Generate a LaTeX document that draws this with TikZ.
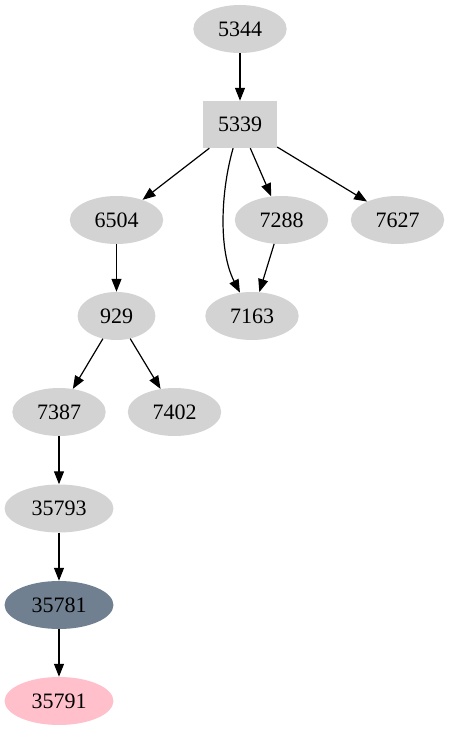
\documentclass[tikz,border=0pt]{standalone}
\usepackage{fontspec}
\setmainfont{Liberation Serif}
\usetikzlibrary{arrows.meta, shapes.geometric}

\definecolor{gvgrey}{HTML}{D3D3D3}
\definecolor{gvslate}{HTML}{708090}
\definecolor{gvpink}{HTML}{FFC0CB}

\begin{document}
\begin{tikzpicture}[x=1pt, y=1pt,
        every node/.style={font=\fontsize{22}{24}\selectfont},
        gnode/.style={ellipse, fill=gvgrey, inner xsep=11pt, inner ysep=2pt, minimum height=48pt},
        gbox/.style={rectangle, fill=gvgrey, minimum width=74pt, minimum height=47pt},
        edge/.style={-{Triangle[length=13pt, width=10pt]}, line width=1.2pt}]

        \useasboundingbox (0,0) rectangle (449,731);

        % Rank heights
        \def\rA{702}
        \def\rB{606.5}
        \def\rC{511}
        \def\rD{415}
        \def\rE{319}
        \def\rF{222.5}
        \def\rG{126}
        \def\rH{30}

        % Nodes
        \node[gnode] (n5344) at (240, \rA) {5344};
        \node[gbox]  (n5339) at (240, \rB) {5339};

        \node[gnode] (n6504) at (116.5, \rC) {6504};
        \node[gnode] (n7288) at (281.5, \rC) {7288};
        \node[gnode] (n7627) at (397.5, \rC) {7627};

        \node[gnode] (n929)  at (116.5, \rD) {929};
        \node[gnode] (n7163) at (252, \rD) {7163};

        \node[gnode] (n7387) at (59, \rE) {7387};
        \node[gnode] (n7402) at (174.5, \rE) {7402};

        \node[gnode] (n35793) at (59, \rF) {35793};
        \node[gnode, fill=gvslate] (n35781) at (59, \rG) {35781};
        \node[gnode, fill=gvpink]  (n35791) at (59, \rH) {35791};

        % Edges
        \draw[edge] (n5344) -- (n5339);
        \draw[edge] (n5339) -- (n6504);
        \draw[edge] (n5339) .. controls (221, 541) and (218, 481) .. (n7163);
        \draw[edge] (n5339) -- (n7288);
        \draw[edge] (n5339) -- (n7627);
        \draw[edge] (n7288) -- (n7163);
        \draw[edge] (n6504) -- (n929);
        \draw[edge] (n929) -- (n7387);
        \draw[edge] (n929) -- (n7402);
        \draw[edge] (n7387) -- (n35793);
        \draw[edge] (n35793) -- (n35781);
        \draw[edge] (n35781) -- (n35791);

    \end{tikzpicture}
\end{document}
